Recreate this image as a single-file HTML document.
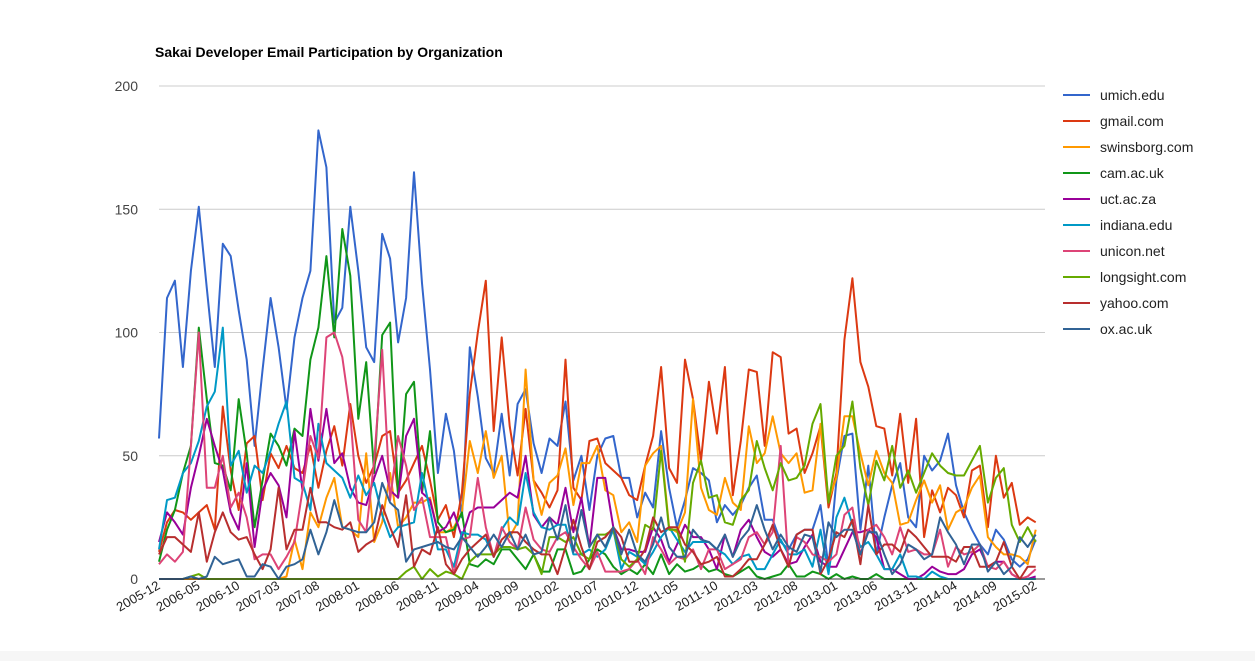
<!DOCTYPE html>
<html><head><meta charset="utf-8">
<style>
html,body{margin:0;padding:0;background:#fff;}
svg{display:block;font-family:"Liberation Sans",Arial,sans-serif;}
</style></head>
<body>
<svg id="chart" width="1255" height="661" viewBox="0 0 1255 661" xmlns="http://www.w3.org/2000/svg">
<rect x="0" y="0" width="1255" height="661" fill="#ffffff"/>
<rect x="0" y="651" width="1255" height="10" fill="#f6f6f6"/>
<text x="155" y="57" font-size="14" font-weight="bold" fill="#000">Sakai Developer Email Participation by Organization</text>
<g id="grid"></g>
<g id="series"></g>
<g id="axes"></g>
<g id="legend"></g>
</svg>
<script>
const seriesNames = ["umich.edu","gmail.com","swinsborg.com","cam.ac.uk","uct.ac.za","indiana.edu","unicon.net","longsight.com","yahoo.com","ox.ac.uk"];
const seriesColors = ["#3366cc","#dc3912","#ff9900","#109618","#990099","#0099c6","#dd4477","#66aa00","#b82e2e","#316395"];
const xTickLabels = ["2005-12","2006-05","2006-10","2007-03","2007-08","2008-01","2008-06","2008-11","2009-04","2009-09","2010-02","2010-07","2010-12","2011-05","2011-10","2012-03","2012-08","2013-01","2013-06","2013-11","2014-04","2014-09","2015-02"];
const yTicks = [0,50,100,150,200];
const umich = [57,114,121,86,125,151,118,86,136,131,109,89,54,85,114,94,69,98,114,125,182,167,104,110,151,125,94,88,140,130,96,114,165,120,85,43,67,52,
25,94,74,49,43,67,42,71,77,55,43,57,54,72,40,50,28,50,57,58,41,41,25,35,29,60,37,21,32,45,43,40,23,30,26,30,37,
42,24,24,15,12,18,20,20,30,5,40,58,59,20,46,10,25,38,47,25,21,50,44,48,59,38,27,20,14,10,20,16,8,5,8,16];
const gmail = [11,23,28,27,24,27,30,20,70,44,28,55,58,32,51,45,54,45,43,54,37,52,62,46,71,50,39,46,58,60,35,40,47,54,40,24,30,
17,35,75,100,121,60,98,62,42,69,40,35,29,36,89,37,32,56,57,47,44,41,34,32,46,58,86,45,39,89,73,48,80,59,86,34,56,85,
84,54,92,90,59,61,43,51,62,29,43,97,122,88,78,62,61,42,67,39,65,17,36,27,37,34,25,44,46,21,50,33,39,22,25,23];
const swinsborg = [0,0,0,0,0,0,0,0,0,0,0,0,0,0,0,0,1,16,4,27,21,33,41,21,20,17,51,15,23,43,21,25,31,31,33,19,19,
21,27,56,43,60,41,50,17,23,85,40,26,39,42,53,30,47,47,54,36,34,19,23,15,46,51,54,21,19,27,73,37,28,26,41,31,28,62,
47,51,66,51,47,51,35,36,63,32,41,66,66,51,38,52,43,39,22,23,32,40,31,38,20,27,29,37,42,17,13,10,10,9,6,20];
const cam = [7,20,28,43,54,102,73,47,46,36,73,51,21,40,59,54,46,61,58,89,102,131,98,142,123,65,88,43,99,104,33,75,80,35,60,23,19,
20,27,6,5,8,6,12,12,8,4,10,3,3,12,12,2,3,8,12,10,5,2,4,2,6,2,10,2,6,3,4,6,3,4,2,1,3,5,
1,0,1,2,6,1,1,3,2,0,2,0,1,0,0,2,0,0,0,0,0,0,0,0,0,0,0,0,0,0,0,0,0,0,0,0];
const uct = [15,27,23,18,37,50,65,54,44,27,20,47,13,36,43,38,25,60,36,69,48,69,47,51,37,31,30,41,50,36,33,58,65,35,32,19,21,
27,17,27,29,29,29,32,35,33,50,26,21,25,22,37,19,33,13,41,41,21,12,12,11,11,21,16,7,14,22,17,17,12,4,18,9,20,
24,17,11,9,12,6,7,13,18,7,5,5,12,19,19,20,17,4,4,2,0,0,2,5,3,2,2,4,10,12,5,7,7,2,0,0,1];
const indiana = [12,32,33,43,47,56,70,76,102,46,52,35,46,43,52,63,72,41,39,28,63,47,44,41,33,42,34,39,26,17,21,22,23,43,28,12,12,
5,19,18,18,16,9,20,25,22,43,27,21,20,22,22,10,10,12,9,12,20,4,11,9,6,11,17,21,16,11,15,15,15,12,10,6,9,
10,4,4,10,16,10,10,12,5,20,2,25,33,22,13,15,10,4,4,10,1,1,0,3,1,0,0,0,0,0,0,0,0,0,0,0,0];
const unicon = [6,10,7,11,54,100,37,37,50,29,35,25,8,10,10,4,9,15,36,58,49,98,100,90,67,24,19,48,93,32,58,46,28,33,17,17,17,
2,16,17,41,21,9,21,15,12,29,16,12,11,17,19,13,8,4,11,3,3,3,4,8,2,17,12,6,9,8,12,4,12,12,4,6,8,
17,19,14,19,54,5,17,15,10,9,7,10,26,29,10,20,22,17,10,21,11,12,10,10,20,5,13,10,11,14,5,4,7,2,0,1,4];
const longsight = [0,0,0,0,1,2,0,0,0,0,0,0,0,0,0,0,0,0,0,0,0,0,0,0,0,0,0,0,0,0,0,3,5,0,4,1,3,
2,0,7,10,10,10,13,13,12,13,10,2,17,17,15,17,10,8,18,18,20,8,5,8,22,20,52,20,20,7,39,48,33,34,23,22,32,
36,56,45,36,47,40,41,46,63,71,31,50,54,72,45,30,48,40,54,37,44,35,43,51,46,43,42,42,48,54,31,41,45,22,15,21,15];
const yahoo = [10,17,17,14,11,27,7,19,27,19,16,17,10,4,12,37,12,20,20,37,23,23,21,20,23,11,14,16,30,21,13,34,5,12,10,21,6,
2,8,12,15,18,9,16,19,19,15,12,10,10,2,13,24,13,4,15,17,21,17,7,7,12,25,19,21,21,14,11,6,7,9,1,1,4,
8,8,14,22,12,5,18,20,20,2,8,19,17,24,6,30,10,14,14,11,20,17,13,9,9,9,7,13,13,5,5,7,15,5,0,5,5];
const ox = [0,0,0,0,1,0,1,9,6,7,8,1,1,6,5,0,5,6,8,20,10,19,32,21,20,19,19,23,39,31,28,7,12,13,14,15,13,
12,17,13,9,13,18,13,19,12,18,10,11,25,16,30,11,28,13,18,13,21,10,20,10,7,14,25,13,9,9,20,16,15,12,18,9,16,
20,30,20,12,18,13,11,18,17,3,23,17,20,20,10,19,19,10,2,6,14,12,8,10,25,19,14,6,14,14,3,7,2,5,17,13,18];
const seriesData = [umich,gmail,swinsborg,cam,uct,indiana,unicon,longsight,yahoo,ox];

const NS = "http://www.w3.org/2000/svg";
const X0 = 159, XSTEP = 7.97, Y0 = 579, YMAX = 200, YTOP = 86;
function xScale(i){ return X0 + i * XSTEP; }
function yScale(v){ return Y0 - v / YMAX * (Y0 - YTOP); }
function mk(tag, attrs, parent){
  const e = document.createElementNS(NS, tag);
  for (const k in attrs) e.setAttribute(k, attrs[k]);
  parent.appendChild(e);
  return e;
}
const grid = document.getElementById('grid');
const axes = document.getElementById('axes');
const seriesG = document.getElementById('series');
const legend = document.getElementById('legend');
const nPts = umich.length;
const xEnd = 1045;

yTicks.forEach(t => {
  const y = yScale(t);
  if (t !== 0) {
    const ln = mk('line', {x1: X0, x2: xEnd, y1: y, y2: y, stroke: '#cccccc', 'stroke-width': 1}, grid);
    
    
  }
  const tx = mk('text', {x: 138, y: y + 5, 'text-anchor': 'end', 'font-size': 14, fill: '#444'}, axes);
  tx.textContent = String(t);
  
  
});

xTickLabels.forEach((lab, k) => {
  const x = xScale(k * 5) + 2;
  const y = 588;
  const tx = mk('text', {x: x, y: y, 'text-anchor': 'end', 'font-size': 13, fill: '#222', transform: 'rotate(-30 ' + x + ' ' + y + ')'}, axes);
  tx.textContent = lab;
  
  
});

seriesData.forEach((arr, s) => {
  const pts = arr.map((v, i) => xScale(i).toFixed(1) + ',' + yScale(v).toFixed(1)).join(' ');
  const pl = mk('polyline', {points: pts, fill: 'none', stroke: seriesColors[s], 'stroke-width': 2, 'stroke-linejoin': 'round'}, seriesG);
  
  
});

const base = mk('line', {x1: X0, x2: xEnd, y1: Y0, y2: Y0, stroke: '#333333', 'stroke-width': 1}, axes);



seriesNames.forEach((nm, s) => {
  const y = 95 + s * 26;
  const g = mk('g', {}, legend);
  
  
  mk('line', {x1: 1063, x2: 1090, y1: y, y2: y, stroke: seriesColors[s], 'stroke-width': 2}, g);
  const tx = mk('text', {x: 1100, y: y + 5, 'font-size': 14, fill: '#222'}, g);
  tx.textContent = nm;
});
</script>
</body></html>
